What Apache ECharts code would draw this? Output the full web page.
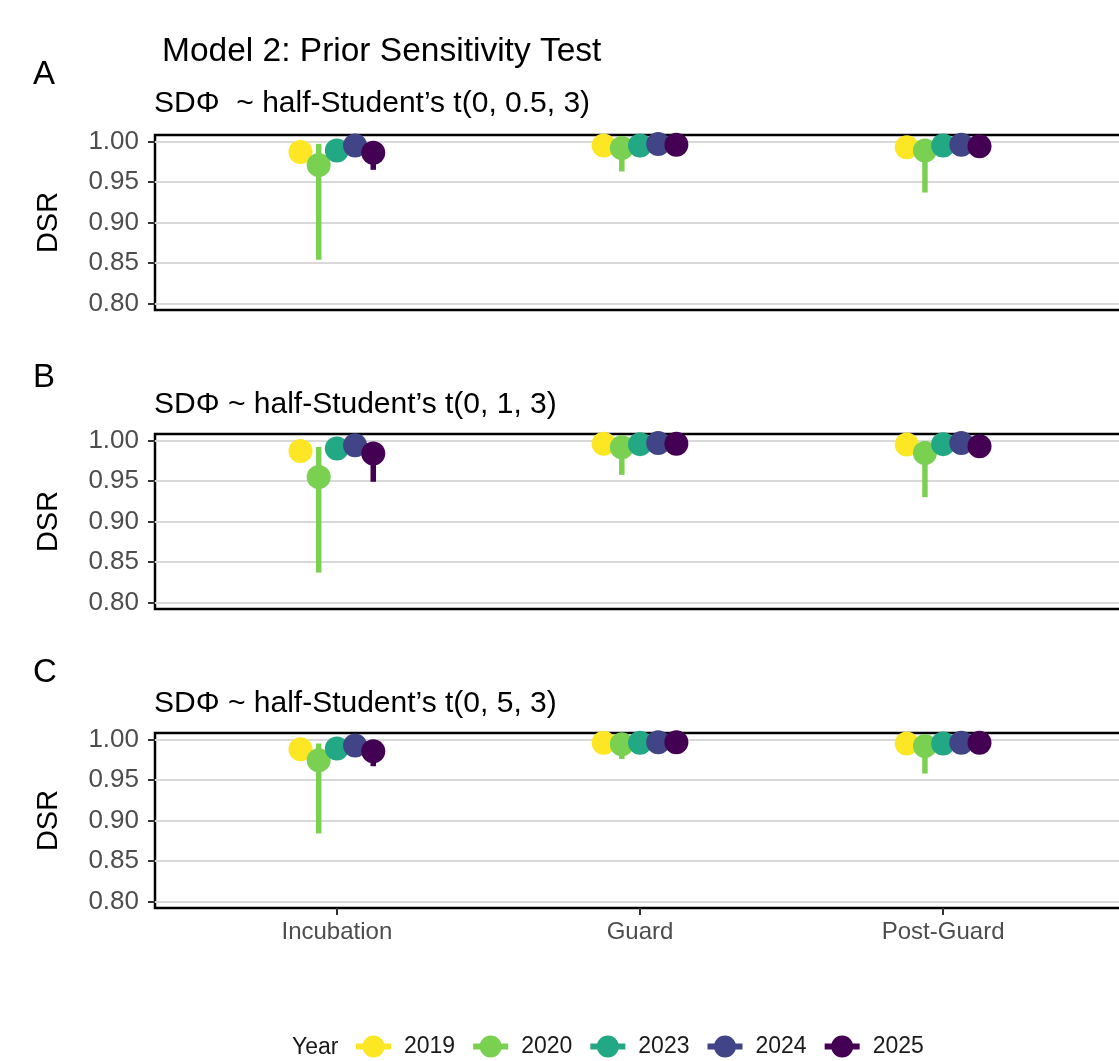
<!DOCTYPE html>
<html>
<head>
<meta charset="utf-8">
<title>Model 2: Prior Sensitivity Test</title>
<script src="https://cdn.jsdelivr.net/npm/echarts@6/dist/echarts.min.js"></script>
<style>
  html, body { margin: 0; padding: 0; background: #fff; }
  #chart { width: 1119px; height: 1061px; }
</style>
</head>
<body>
<div id="chart"></div>
<script>
const stages = ['Incubation', 'Guard', 'Post-Guard'];
const years = ['2019', '2020', '2023', '2024', '2025'];
const yearColors = ['#FDE725', '#7AD151', '#22A884', '#414487', '#440154'];
const dodge = [-0.12, -0.06, 0, 0.06, 0.12];
const yTicks = [0.80, 0.85, 0.90, 0.95, 1.00];

// rows = years, columns = stages
const meanA = [
  [0.987, 0.995, 0.993],
  [0.971, 0.992, 0.989],
  [0.989, 0.995, 0.995],
  [0.995, 0.997, 0.996],
  [0.986, 0.996, 0.994]
];
const lowA = [
  [0.975, 0.988, 0.984],
  [0.854, 0.963, 0.937],
  [0.978, 0.989, 0.988],
  [0.987, 0.992, 0.990],
  [0.965, 0.989, 0.985]
];
const highA = [
  [0.996, 0.999, 0.999],
  [0.997, 0.999, 0.999],
  [0.996, 0.999, 0.999],
  [0.999, 1.000, 1.000],
  [0.996, 0.999, 0.999]
];

const meanB = [
  [0.987, 0.996, 0.995],
  [0.955, 0.9915, 0.9845],
  [0.990, 0.9955, 0.9955],
  [0.994, 0.997, 0.997],
  [0.984, 0.996, 0.993]
];
const lowB = [
  [0.975, 0.989, 0.986],
  [0.837, 0.9575, 0.930],
  [0.979, 0.989, 0.988],
  [0.986, 0.992, 0.991],
  [0.949, 0.988, 0.982]
];
const highB = [
  [0.996, 0.999, 0.999],
  [0.992, 0.999, 0.999],
  [0.997, 0.999, 0.999],
  [0.999, 1.000, 1.000],
  [0.995, 0.999, 0.999]
];

const meanC = [
  [0.988, 0.996, 0.995],
  [0.9745, 0.994, 0.992],
  [0.989, 0.996, 0.995],
  [0.9925, 0.9967, 0.996],
  [0.9855, 0.9967, 0.996]
];
const lowC = [
  [0.976, 0.990, 0.988],
  [0.884, 0.976, 0.958],
  [0.978, 0.990, 0.989],
  [0.985, 0.992, 0.991],
  [0.967, 0.991, 0.990]
];
const highC = [
  [0.997, 0.999, 0.999],
  [0.995, 0.999, 0.999],
  [0.997, 0.999, 0.999],
  [0.999, 1.000, 1.000],
  [0.996, 0.999, 0.999]
];

const panels = [
  { tag: 'A', title: 'SDΦ  ~ half-Student’s t(0, 0.5, 3)', mean: meanA, low: lowA, high: highA },
  { tag: 'B', title: 'SDΦ ~ half-Student’s t(0, 1, 3)', mean: meanB, low: lowB, high: highB },
  { tag: 'C', title: 'SDΦ ~ half-Student’s t(0, 5, 3)', mean: meanC, low: lowC, high: highC }
];

const font = '"Liberation Sans", Arial, Helvetica, sans-serif';
const panelTop = [135, 434, 733];
const panelHeight = 175;
const tagY = [75, 378, 673];
const subtitleY = [104, 405, 704];

let chart = echarts.init(document.getElementById('chart'));

const grids = [];
const xAxes = [];
const yAxes = [];
const series = [];
const graphics = [];

panels.forEach((p, i) => {
  const last = i === panels.length - 1;
  grids.push({
    left: 155, top: panelTop[i], width: 970, height: panelHeight,
    show: true, borderColor: '#000', borderWidth: 2.5,
    backgroundColor: 'transparent', containLabel: false, outerBoundsMode: 'none'
  });
  xAxes.push({
    type: 'value', gridIndex: i, min: 0.4, max: 3.6,
    axisLine: { show: false },
    splitLine: { show: false },
    axisTick: { show: last, customValues: [1, 2, 3], length: 7, lineStyle: { color: '#333', width: 2 } },
    axisLabel: {
      show: last, customValues: [1, 2, 3],
      formatter: v => stages[Math.round(v) - 1],
      color: '#4D4D4D', fontSize: 24, fontFamily: font, margin: 12
    }
  });
  yAxes.push({
    type: 'value', gridIndex: i, min: 0.792, max: 1.008,
    axisLine: { show: false },
    axisTick: { show: true, customValues: yTicks, length: 7, lineStyle: { color: '#333', width: 2 } },
    axisLabel: {
      customValues: yTicks, formatter: v => v.toFixed(2),
      color: '#4D4D4D', fontSize: 26, fontFamily: font, margin: 16
    },
    splitLine: { show: true, lineStyle: { color: '#D9D9D9', width: 2 } }
  });

  years.forEach((yr, j) => {
    const color = yearColors[j];
    // error bars first, points on top (as geom_pointrange)
    series.push({
      type: 'custom', name: yr, xAxisIndex: i, yAxisIndex: i, z: 2,
      itemStyle: { color: color },
      encode: { x: 0, y: [1, 2] },
      data: stages.map((s, k) => [k + 1 + dodge[j], p.low[j][k], p.high[j][k]]),
      renderItem: (params, api) => {
        const a = api.coord([api.value(0), api.value(1)]);
        const b = api.coord([api.value(0), api.value(2)]);
        return {
          type: 'line',
          shape: { x1: a[0], y1: a[1], x2: b[0], y2: b[1] },
          style: { stroke: color, lineWidth: 5.5 }
        };
      }
    });
    series.push({
      type: 'scatter', name: yr, xAxisIndex: i, yAxisIndex: i, z: 3,
      symbol: 'circle', symbolSize: 24,
      itemStyle: { color: color, opacity: 1 },
      data: stages.map((s, k) => [k + 1 + dodge[j], p.mean[j][k]])
    });
  });

  graphics.push({
    type: 'text', x: 33, y: tagY[i],
    style: { text: p.tag, fontSize: 33, fontFamily: font, fill: '#000', verticalAlign: 'middle', textVerticalAlign: 'middle' }
  });
  graphics.push({
    type: 'text', x: 154, y: subtitleY[i],
    style: { text: p.title, fontSize: 30, fontFamily: font, fill: '#000', verticalAlign: 'middle', textVerticalAlign: 'middle' }
  });
  graphics.push({
    type: 'text', x: 49, y: panelTop[i] + panelHeight / 2, rotation: Math.PI / 2,
    style: { text: 'DSR', fontSize: 29, fontFamily: font, fill: '#000', align: 'center', textAlign: 'center', verticalAlign: 'middle', textVerticalAlign: 'middle' }
  });
});

graphics.push({
  type: 'text', x: 162, y: 52,
  style: { text: 'Model 2: Prior Sensitivity Test', fontSize: 33.5, fontFamily: font, fill: '#000', verticalAlign: 'middle', textVerticalAlign: 'middle' }
});
graphics.push({
  type: 'text', x: 292, y: 1048,
  style: { text: 'Year', fontSize: 23, fontFamily: font, fill: '#1a1a1a', verticalAlign: 'middle', textVerticalAlign: 'middle' }
});

chart.setOption({
  animation: false,
  backgroundColor: '#fff',
  grid: grids,
  xAxis: xAxes,
  yAxis: yAxes,
  legend: {
    data: years,
    left: 351, top: 1030,
    orient: 'horizontal',
    itemWidth: 35, itemHeight: 22, itemGap: 18,
    icon: 'path://M0,8L35,8L35,14L0,14Z M6.5,11A11,11,0,1,1,28.5,11A11,11,0,1,1,6.5,11Z',
    selectedMode: false,
    textStyle: { fontSize: 23, color: '#1a1a1a', fontFamily: font, padding: [0, 0, 0, 8] }
  },
  graphic: graphics,
  series: series
});
</script>
</body>
</html>
